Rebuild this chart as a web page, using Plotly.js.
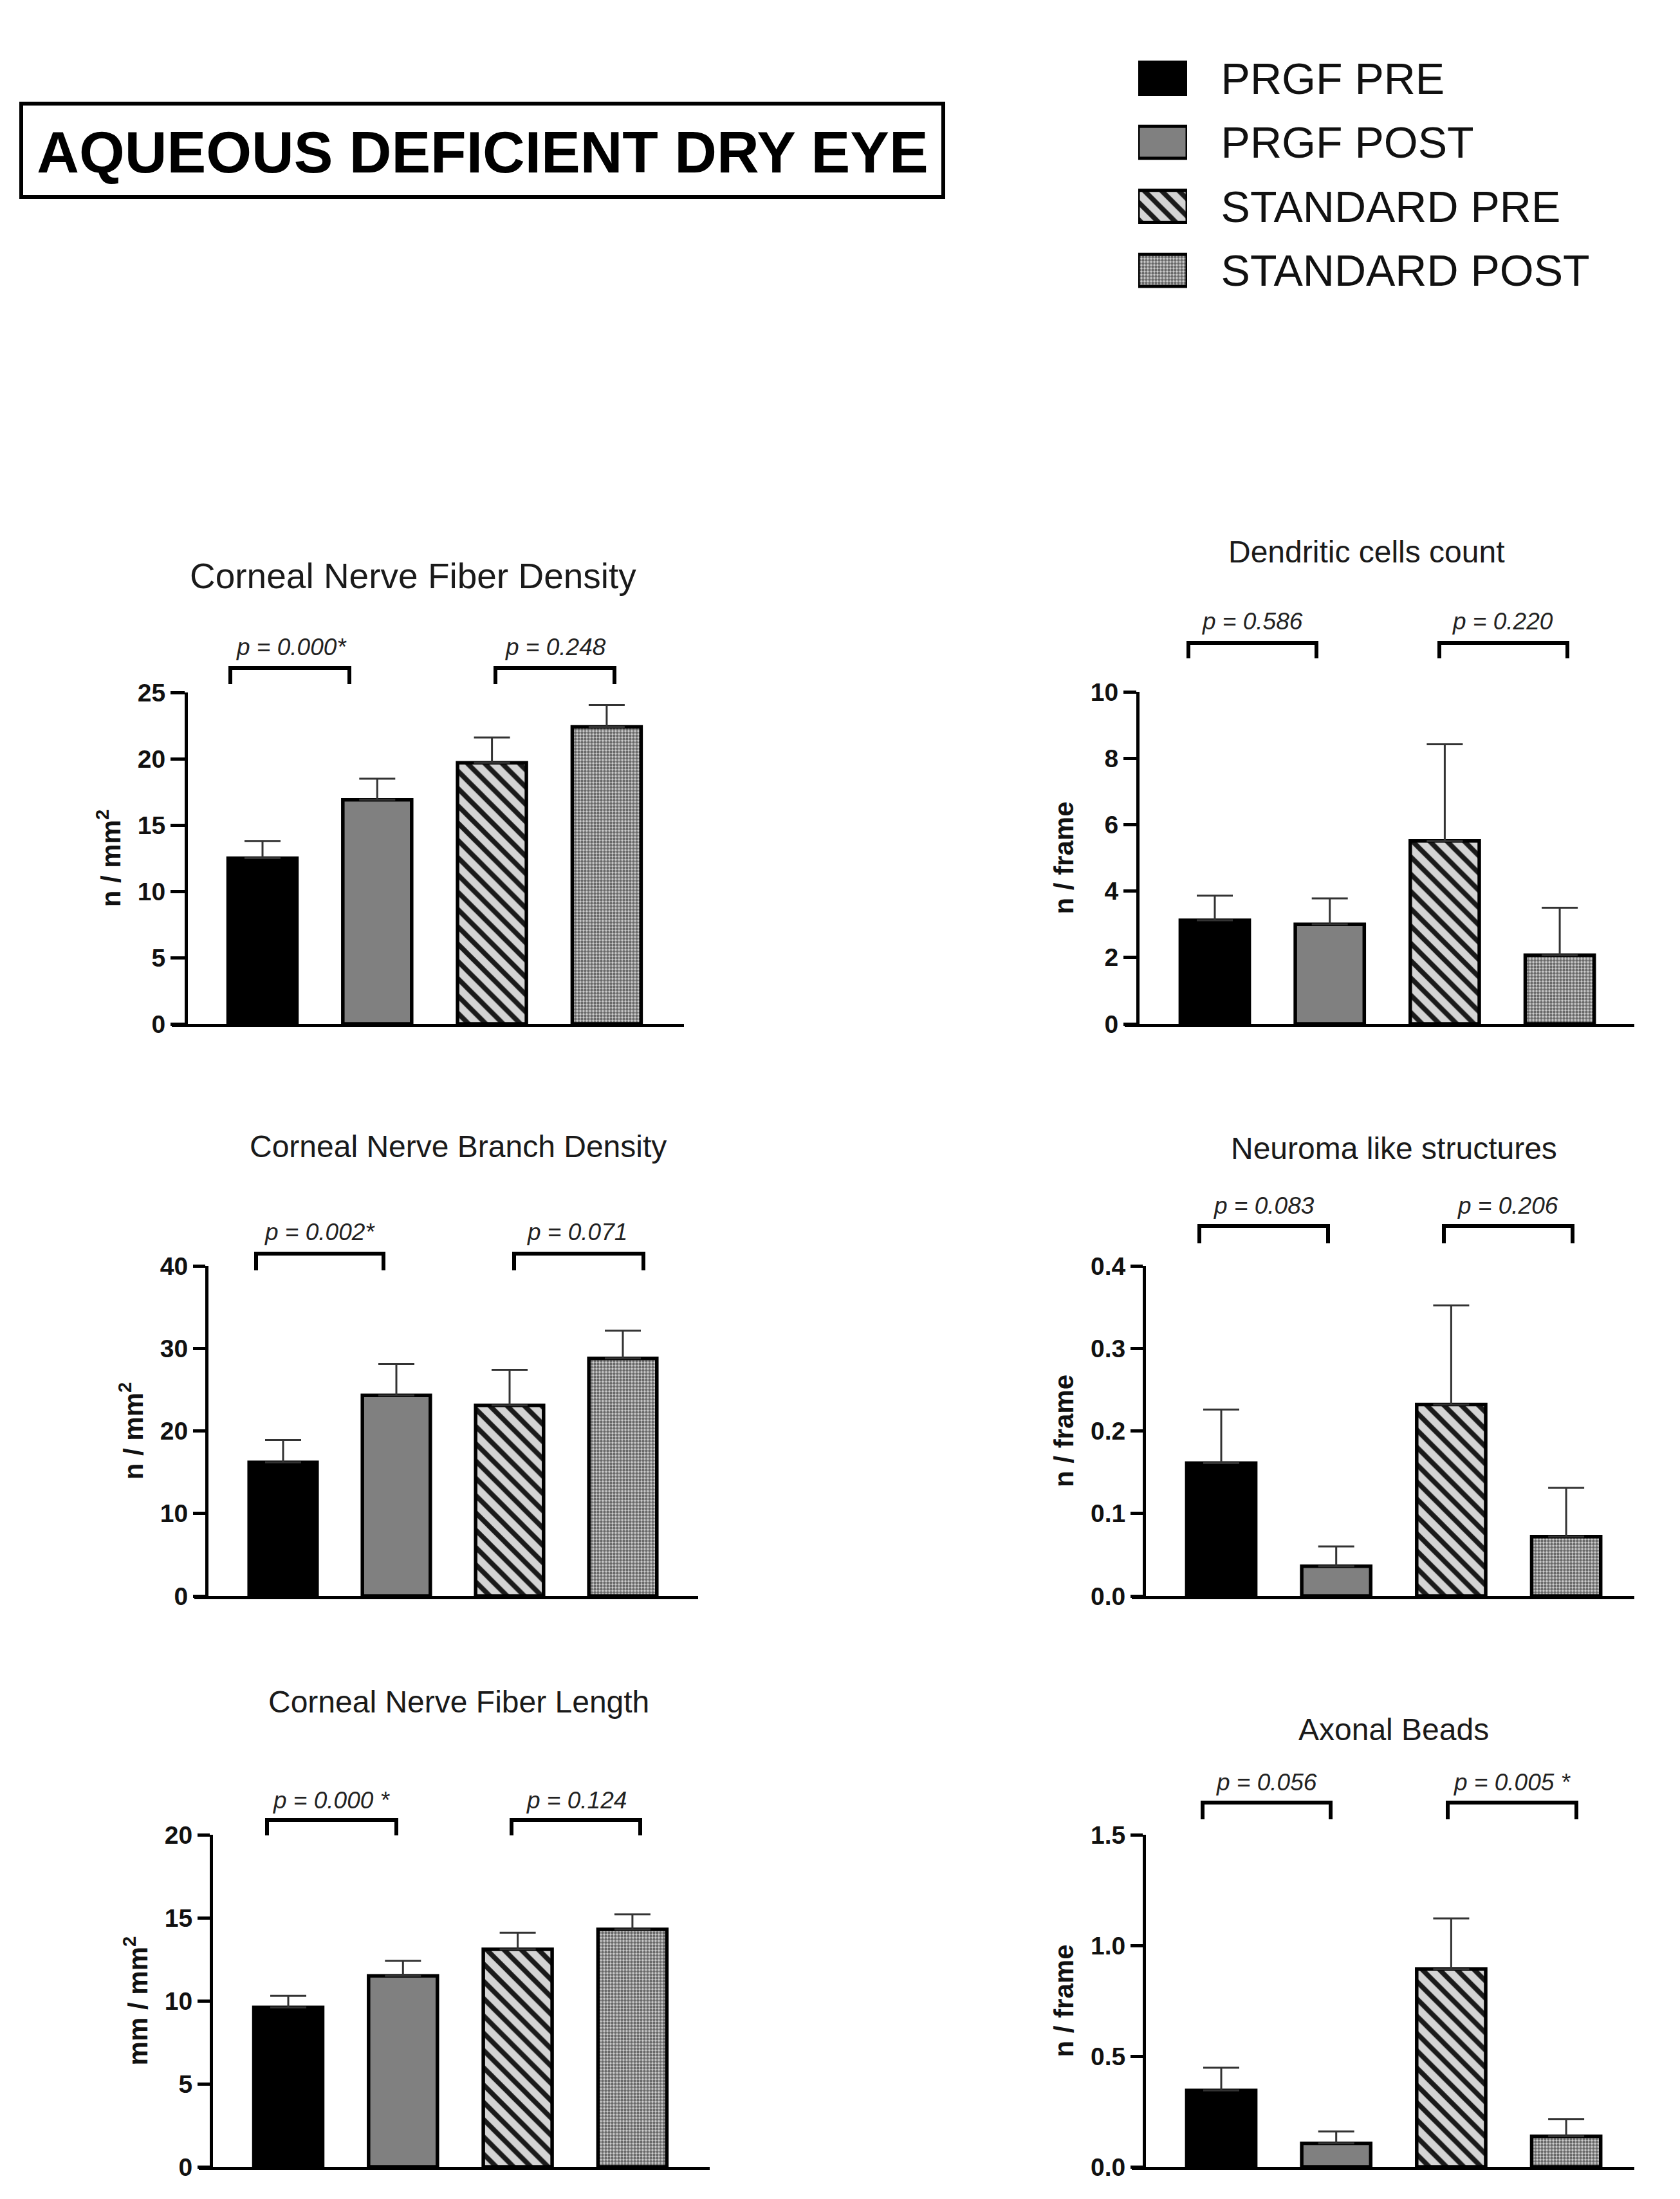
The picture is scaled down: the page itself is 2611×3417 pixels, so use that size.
<!DOCTYPE html>
<html><head><meta charset="utf-8">
<script src="https://cdn.plot.ly/plotly-3.0.1.min.js"></script>
<style>html,body{margin:0;padding:0;background:#fff;}#chart{width:2611px;height:3417px;}</style>
</head><body><div id="chart"></div>
<script>
// ---------------- DATA ----------------
const seriesNames = ['PRGF PRE', 'PRGF POST', 'STANDARD PRE', 'STANDARD POST'];

const cnfdMean = [12.5, 16.9, 19.7, 22.4];
const cnfdErr  = [1.3, 1.6, 1.9, 1.65];
const dcMean   = [3.12, 3.0, 5.51, 2.07];
const dcErr    = [0.74, 0.78, 2.91, 1.43];
const cnbdMean = [16.2, 24.3, 23.1, 28.8];
const cnbdErr  = [2.7, 3.8, 4.3, 3.35];
const nlsMean  = [0.161, 0.036, 0.232, 0.072];
const nlsErr   = [0.065, 0.024, 0.120, 0.059];
const cnflMean = [9.6, 11.5, 13.1, 14.3];
const cnflErr  = [0.7, 0.9, 1.0, 0.9];
const abMean   = [0.345, 0.106, 0.893, 0.138];
const abErr    = [0.103, 0.054, 0.229, 0.078];

const cnfdTicks = [0, 5, 10, 15, 20, 25];
const dcTicks   = [0, 2, 4, 6, 8, 10];
const cnbdTicks = [0, 10, 20, 30, 40];
const nlsTicks  = [0, 0.1, 0.2, 0.3, 0.4];
const cnflTicks = [0, 5, 10, 15, 20];
const abTicks   = [0, 0.5, 1.0, 1.5];

const panelTitles = ['Corneal Nerve Fiber Density', 'Dendritic cells count', 'Corneal Nerve Branch Density',
                     'Neuroma like structures', 'Corneal Nerve Fiber Length', 'Axonal Beads'];
const yAxisTitles = ['n / mm<sup>2</sup>', 'n / frame', 'n / mm<sup>2</sup>', 'n / frame', 'mm / mm<sup>2</sup>', 'n / frame'];
const pPrgf     = ['p = 0.000*', 'p = 0.586', 'p = 0.002*', 'p = 0.083', 'p = 0.000 *', 'p = 0.056'];
const pStandard = ['p = 0.248', 'p = 0.220', 'p = 0.071', 'p = 0.206', 'p = 0.124', 'p = 0.005 *'];
const mainTitle = 'AQUEOUS DEFICIENT DRY EYE';

// ---------------- LAYOUT / STYLE ----------------
const W = 2611, H = 3417;
const px = x => x / W;
const py = y => 1 - y / H;
const FONT = 'Liberation Sans, Arial, Helvetica, sans-serif';

const means = [cnfdMean, dcMean, cnbdMean, nlsMean, cnflMean, abMean];
const errs  = [cnfdErr, dcErr, cnbdErr, nlsErr, cnflErr, abErr];
const ticks = [cnfdTicks, dcTicks, cnbdTicks, nlsTicks, cnflTicks, abTicks];

// pixel geometry of each panel
const geom = [
  {x0: 267,  ax: 289,  x1: 1063, c0: 408,  step: 178.3, yTop: 1076, yZero: 1591, tx: 642,  ty: 895,  tsize: 55, pY: 1005,
   pX: [453, 863],  br: [[358, 543], [770, 955]],   bT: 1038, bB: 1063, fmt: ''},
  {x0: 1748, ax: 1768, x1: 2540, c0: 1888, step: 178.7, yTop: 1075, yZero: 1591, tx: 2124, ty: 857,  tsize: 48, pY: 965,
   pX: [1946, 2335], br: [[1847, 2046], [2237, 2436]], bT: 999,  bB: 1023, fmt: ''},
  {x0: 302,  ax: 321,  x1: 1085, c0: 440,  step: 176,   yTop: 1967, yZero: 2480, tx: 712,  ty: 1781, tsize: 48, pY: 1914,
   pX: [497, 897],  br: [[398, 596], [799, 1000]],  bT: 1948, bB: 1974, fmt: ''},
  {x0: 1759, ax: 1778, x1: 2540, c0: 1898, step: 178.7, yTop: 1967, yZero: 2480, tx: 2166, ty: 1785, tsize: 48, pY: 1873,
   pX: [1964, 2343], br: [[1864, 2064], [2244, 2444]], bT: 1905, bB: 1932, fmt: '.1f'},
  {x0: 309,  ax: 328,  x1: 1103, c0: 448,  step: 178.3, yTop: 2851, yZero: 3367, tx: 713,  ty: 2644, tsize: 48, pY: 2797,
   pX: [515, 896],  br: [[415, 616], [795, 995]],   bT: 2828, bB: 2852, fmt: ''},
  {x0: 1759, ax: 1778, x1: 2540, c0: 1898, step: 178.7, yTop: 2851, yZero: 3367, tx: 2166, ty: 2687, tsize: 48, pY: 2769,
   pX: [1968, 2350], br: [[1869, 2068], [2250, 2450]], bT: 2801, bB: 2827, fmt: '.1f'}
];

// one style per series
const seriesStyle = [
  {color: '#000000', pattern: {shape: ''}},
  {color: '#808080', pattern: {shape: ''}},
  {color: '#d2d2d2', pattern: {shape: '\\', fgcolor: '#1a1a1a', bgcolor: '#d4d4d4', size: 19, solidity: 0.4, fillmode: 'replace'}},
  {color: '#aaaaaa', pattern: {shape: '.', fgcolor: '#686868', bgcolor: '#d0d0d0', size: 5, solidity: 0.6, fillmode: 'replace'}}
];

const traces = [];
const layout = {
  width: W, height: H,
  margin: {l: 0, r: 0, t: 0, b: 0},
  paper_bgcolor: '#ffffff', plot_bgcolor: 'rgba(0,0,0,0)',
  showlegend: false,
  barmode: 'overlay',
  font: {family: FONT, color: '#111111'},
  title: {text: mainTitle, font: {family: FONT, size: 91, weight: 'bold', color: '#000000'},
          x: px(750), y: py(236), xref: 'paper', yref: 'paper', xanchor: 'center', yanchor: 'middle'},
  annotations: [],
  shapes: [
    {type: 'rect', xref: 'paper', yref: 'paper', x0: px(33), x1: px(1466), y0: py(306), y1: py(161),
     line: {color: '#000000', width: 6}, fillcolor: 'rgba(0,0,0,0)'}
  ]
};

geom.forEach((g, i) => {
  const sfx = i === 0 ? '' : String(i + 1);
  const xr = [-(g.c0 - g.x0) / g.step, 3 + (g.x1 - g.c0 - 3 * g.step) / g.step];
  const m = means[i], e = errs[i], tv = ticks[i];
  seriesNames.forEach((name, j) => {
    traces.push({
      type: 'bar', name: name, x: [name], y: [m[j]], xaxis: 'x' + sfx, yaxis: 'y' + sfx,
      width: 0.6, cliponaxis: false, opacity: 1,
      marker: {color: seriesStyle[j].color, pattern: seriesStyle[j].pattern, line: {color: '#000000', width: 5.5}},
      error_y: {type: 'data', symmetric: false, array: [e[j]], arrayminus: [0],
                color: '#333333', thickness: 3, width: 28},
      hoverinfo: 'x+y'
    });
  });
  layout['xaxis' + sfx] = {
    domain: [px(g.x0), px(g.x1)], anchor: 'y' + sfx, type: 'category',
    categoryorder: 'array', categoryarray: seriesNames,
    range: xr, showline: true, linecolor: '#000000', linewidth: 5,
    ticks: '', showticklabels: false, showgrid: false, zeroline: false, fixedrange: true
  };
  layout['yaxis' + sfx] = {
    domain: [py(g.yZero), py(g.yTop)], anchor: 'free', position: px(g.ax),
    range: [0, tv[tv.length - 1]], tickvals: tv, tickformat: g.fmt,
    showline: true, linecolor: '#000000', linewidth: 5,
    ticks: 'outside', ticklen: g.ax - g.x0, tickwidth: 5, tickcolor: '#000000',
    tickfont: {family: FONT, size: 39, weight: 'bold', color: '#111111'},
    showgrid: false, zeroline: false, fixedrange: true,
    title: {text: yAxisTitles[i], font: {family: FONT, size: 42, weight: 'bold', color: '#111111'}, standoff: 12}
  };
  layout.annotations.push({
    text: panelTitles[i], xref: 'paper', yref: 'paper', x: px(g.tx), y: py(g.ty),
    xanchor: 'center', yanchor: 'middle', showarrow: false,
    font: {family: FONT, size: g.tsize, color: '#1a1a1a'}
  });
  [pPrgf[i], pStandard[i]].forEach((t, k) => {
    layout.annotations.push({
      text: t, xref: 'paper', yref: 'paper', x: px(g.pX[k]), y: py(g.pY),
      xanchor: 'center', yanchor: 'middle', showarrow: false,
      font: {family: FONT, size: 37, style: 'italic', color: '#222222'}
    });
    const b = g.br[k];
    layout.shapes.push({
      type: 'path', xref: 'paper', yref: 'paper',
      path: `M ${px(b[0])} ${py(g.bB)} L ${px(b[0])} ${py(g.bT)} L ${px(b[1])} ${py(g.bT)} L ${px(b[1])} ${py(g.bB)}`,
      line: {color: '#000000', width: 6}
    });
  });
});

// legend swatches (a small bar panel so the fills match the bars)
seriesNames.forEach((name, j) => {
  traces.push({
    type: 'bar', orientation: 'h', name: name, x: [1], y: [name],
    xaxis: 'x7', yaxis: 'y7', width: 0.5, hoverinfo: 'y',
    marker: {color: seriesStyle[j].color, pattern: seriesStyle[j].pattern, line: {color: '#000000', width: 5}}
  });
});
layout.xaxis7 = {domain: [px(1769), px(1845)], anchor: 'y7', range: [0, 1], visible: false, fixedrange: true};
layout.yaxis7 = {
  domain: [py(470), py(72)], anchor: 'x7', side: 'right', type: 'category',
  categoryorder: 'array', categoryarray: seriesNames,
  range: [3.5, -0.5], showline: false, showgrid: false, zeroline: false,
  ticks: 'outside', ticklen: 38, tickcolor: 'rgba(0,0,0,0)',
  tickfont: {family: FONT, size: 68, color: '#111111'}, fixedrange: true
};

Plotly.newPlot('chart', traces, layout, {staticPlot: true, displayModeBar: false});
</script>
</body></html>
